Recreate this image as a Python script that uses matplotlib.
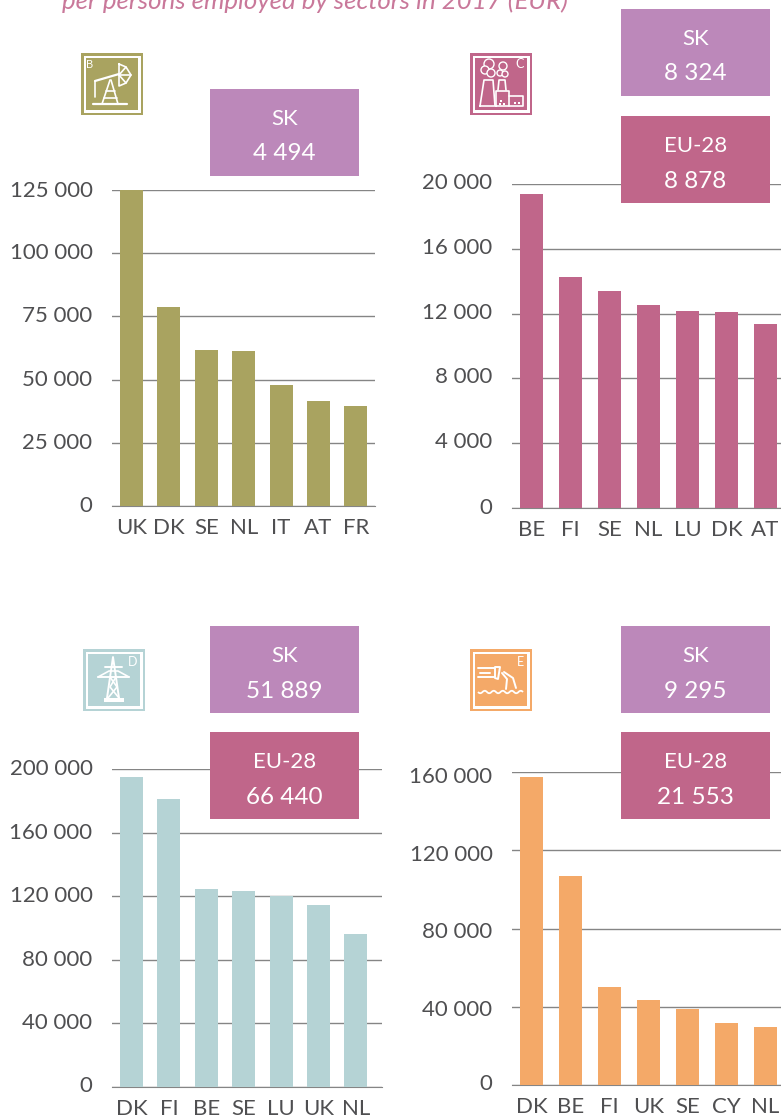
import matplotlib
matplotlib.use("Agg")
import matplotlib.pyplot as plt
from matplotlib.patches import Rectangle, Circle, PathPatch
from matplotlib.path import Path
from matplotlib.transforms import ScaledTranslation

plt.rcParams['font.family'] = ['Lato', 'DejaVu Sans']

W, H = 781, 1117

title = "per persons employed by sectors in 2017 (EUR)"

# sector B
cats_b = ["UK", "DK", "SE", "NL", "IT", "AT", "FR"]
vals_b = [125000, 78700, 61700, 61300, 47900, 41500, 39500]
ticks_b = [0, 25000, 50000, 75000, 100000, 125000]
# sector C
cats_c = ["BE", "FI", "SE", "NL", "LU", "DK", "AT"]
vals_c = [19380, 14260, 13400, 12530, 12160, 12100, 11360]
ticks_c = [0, 4000, 8000, 12000, 16000, 20000]
# sector D
cats_d = ["DK", "FI", "BE", "SE", "LU", "UK", "NL"]
vals_d = [195000, 181100, 124500, 123300, 120100, 114500, 96200]
ticks_d = [0, 40000, 80000, 120000, 160000, 200000]
# sector E
cats_e = ["DK", "BE", "FI", "UK", "SE", "CY", "NL"]
vals_e = [157400, 106800, 50100, 43500, 38900, 31700, 29600]
ticks_e = [0, 40000, 80000, 120000, 160000]

sk_b, sk_c, sk_d, sk_e = "4 494", "8 324", "51 889", "9 295"
eu_c, eu_d, eu_e = "8 878", "66 440", "21 553"

OLIVE = "#A9A360"
ROSE = "#C0668A"
TEAL = "#B5D3D5"
ORANGE = "#F4A968"
PURPLE = "#BC88BA"
GREY = "#858585"
TXT = "#4F4F51"


def fmt(v):
    return f"{v:,}".replace(",", " ")


def panel(fig, cats, vals, ticks, color, left, right, base, top, first, step, shifts):
    # top = pixel row of the highest tick, shifts = how far each y label sits above its line
    ax = fig.add_axes([left / W, 1 - base / H, (right - left) / W, (base - top) / H])
    ax.set_ylim(0, ticks[-1])
    ax.set_xlim((left - first) / step, (right - first) / step)
    ax.bar(range(len(cats)), vals, width=23 / step, color=color, zorder=3)
    ax.set_yticks(ticks)
    ax.set_yticklabels([fmt(t) for t in ticks])
    ax.set_xticks(range(len(cats)))
    ax.set_xticklabels(cats)
    ax.grid(axis="y", color=GREY, lw=1, zorder=1)
    ax.set_axisbelow(True)
    for s in ["top", "right", "left"]:
        ax.spines[s].set_visible(False)
    ax.spines["bottom"].set_color(GREY)
    ax.tick_params(axis="both", length=0, labelsize=16, labelcolor=TXT)
    ax.tick_params(axis="y", pad=left - 93 - 5 if left < 300 else left - 493 - 5)
    ax.tick_params(axis="x", pad=8.5)
    for lab, sh in zip(ax.get_yticklabels(), shifts):
        lab.set_transform(lab.get_transform() + ScaledTranslation(0, sh / 100, fig.dpi_scale_trans))
    ax.patch.set_alpha(0)
    return ax


def box(ov, x, y, color, head, val):
    ov.add_patch(Rectangle((x, y), 149, 87, color=color, lw=0))
    ov.text(x + 74.5, y + 30, head, color="white", fontsize=16, ha="center", va="center")
    ov.text(x + 74.5, y + 65, val, color="white", fontsize=17.5, ha="center", va="center")


def frame(ov, x, y, color):
    ov.add_patch(Rectangle((x, y), 62, 62, color=color, lw=0))
    ov.add_patch(Rectangle((x + 2.5, y + 2.5), 57, 57, color="white", lw=0))
    ov.add_patch(Rectangle((x + 5, y + 5), 52, 52, color=color, lw=0))


def line(ov, x, y, pts, lw=1.2):
    ov.plot([x + p[0] for p in pts], [y + p[1] for p in pts], color="white", lw=lw,
            solid_capstyle="round")


def icon_b(ov, x, y):
    frame(ov, x, y, OLIVE)
    ov.text(x + 9, y + 12, "B", color="white", fontsize=8, ha="center", va="center")
    line(ov, x, y, [(12, 51), (46, 51)], 1.6)
    line(ov, x, y, [(29, 27), (21, 51)])
    line(ov, x, y, [(30, 27), (37, 51)])
    line(ov, x, y, [(25, 38), (34, 38)])
    line(ov, x, y, [(23, 45), (36, 45)])
    line(ov, x, y, [(14, 28), (38, 21)], 1.6)
    line(ov, x, y, [(14, 28), (14, 44)])
    line(ov, x, y, [(38, 11), (38, 33), (45, 30), (50, 22), (45, 14), (38, 11)])
    line(ov, x, y, [(38, 22), (50, 22)])
    line(ov, x, y, [(38, 22), (45, 14)])
    line(ov, x, y, [(38, 22), (45, 30)])


def icon_c(ov, x, y):
    frame(ov, x, y, ROSE)
    ov.text(x + 50, y + 11, "C", color="white", fontsize=9, ha="center", va="center")
    line(ov, x, y, [(10, 53), (14, 27), (23, 27), (25, 53), (10, 53)])
    line(ov, x, y, [(28, 37), (29, 27), (35, 27), (36, 37)])
    line(ov, x, y, [(26, 53), (26, 38), (39, 38), (39, 53), (26, 53)])
    line(ov, x, y, [(39, 43), (53, 43), (53, 53), (39, 53)])
    for cx, cy, r in [(19, 11, 5), (15, 17, 4), (21, 20, 4), (33, 13, 4), (30, 20, 3), (35, 21, 3)]:
        ov.add_patch(Circle((x + cx, y + cy), r, fc=ROSE, ec="white", lw=1))
    for cx, cy in [(30, 47), (29, 50), (33, 50), (44, 49), (48, 49)]:
        ov.add_patch(Rectangle((x + cx, y + cy), 2, 2, color="white", lw=0))


def icon_d(ov, x, y):
    frame(ov, x, y, TEAL)
    ov.text(x + 50, y + 13, "D", color="white", fontsize=9, ha="center", va="center")
    ov.add_patch(Rectangle((x + 21, y + 49), 20, 4, color="white", lw=0))
    line(ov, x, y, [(24, 49), (30, 8), (36, 49)], 1.4)
    line(ov, x, y, [(22, 18), (39, 18)], 1.4)
    line(ov, x, y, [(15, 28), (46, 28)], 1.4)
    line(ov, x, y, [(15, 28), (26, 22), (35, 22), (46, 28)])
    line(ov, x, y, [(27, 28), (34, 38), (25, 49)])
    line(ov, x, y, [(33, 28), (27, 38), (36, 49)])


def icon_e(ov, x, y):
    frame(ov, x, y, ORANGE)
    ov.text(x + 50, y + 13, "E", color="white", fontsize=9, ha="center", va="center")
    line(ov, x, y, [(8, 19), (25, 19), (25, 28), (8, 28)], 1.4)
    line(ov, x, y, [(25, 18), (30, 18), (28, 30), (25, 29)], 1.4)
    line(ov, x, y, [(10, 24), (20, 24)], 1.4)
    line(ov, x, y, [(32, 24), (37, 30), (36, 40)], 1.4)
    line(ov, x, y, [(34, 23), (43, 29), (46, 39)], 1.4)
    for wy in [43]:
        verts = [(x + 8, y + wy)]
        codes = [Path.MOVETO]
        for i in range(5):
            x0 = 8 + i * 9
            verts += [(x + x0 + 2.2, y + wy + 2.5), (x + x0 + 4.5, y + wy),
                      (x + x0 + 6.8, y + wy - 2.5), (x + x0 + 9, y + wy)]
            codes += [Path.CURVE3] * 4
        ov.add_patch(PathPatch(Path(verts, codes), fc="none", ec="white", lw=1.3))


fig = plt.figure(figsize=(W / 100, H / 100), dpi=100)

panel(fig, cats_b, vals_b, ticks_b, OLIVE, 112, 375, 506, 190, 131.5, 37.4, [2, 2, 2, 2, 2, 1])
panel(fig, cats_c, vals_c, ticks_c, ROSE, 512, 781, 508, 184, 531.5, 39, [2, 3, 3, 3, 3, 3])
panel(fig, cats_d, vals_d, ticks_d, TEAL, 112, 382, 1087, 769, 131.5, 37.4, [3, 2, 2, 2, 2, 2])
panel(fig, cats_e, vals_e, ticks_e, ORANGE, 512, 781, 1085, 772, 531.5, 39, [3, -1, -2, -3, -3])

ov = fig.add_axes([0, 0, 1, 1], zorder=10)
ov.set_xlim(0, W)
ov.set_ylim(H, 0)
ov.axis("off")

ov.text(62, 9, title, color="#C9789A", fontsize=18.6, style="italic",
        ha="left", va="baseline", clip_on=False)

box(ov, 210, 89, PURPLE, "SK", sk_b)
box(ov, 621, 9, PURPLE, "SK", sk_c)
box(ov, 621, 116, ROSE, "EU-28", eu_c)
box(ov, 210, 626, PURPLE, "SK", sk_d)
box(ov, 210, 732, ROSE, "EU-28", eu_d)
box(ov, 621, 626, PURPLE, "SK", sk_e)
box(ov, 621, 732, ROSE, "EU-28", eu_e)

icon_b(ov, 81, 53)
icon_c(ov, 470, 53)
icon_d(ov, 83, 649)
icon_e(ov, 470, 649)

fig.savefig("out.png", dpi=100)
